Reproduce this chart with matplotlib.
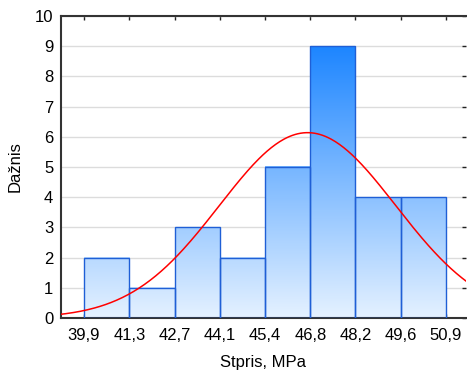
import numpy as np
import matplotlib
matplotlib.use('Agg')
import matplotlib.pyplot as plt
from matplotlib.colors import LinearSegmentedColormap

plt.rcParams['font.family'] = ['Liberation Sans', 'DejaVu Sans']

# histogram data
edge_labels = ['39,9', '41,3', '42,7', '44,1', '45,4', '46,8', '48,2', '49,6', '50,9']
counts = [2, 1, 3, 2, 5, 9, 4, 4]

# fitted normal curve (in bin units, starting at 39,9)
fit_mean = 4.94
fit_std = 1.95

n_total = sum(counts)

fig = plt.figure(figsize=(4.67, 3.74), dpi=100)
ax = fig.add_axes([0.1306, 0.1497, 0.867, 0.8075])

ymax_grad = 9.0
cmap = LinearSegmentedColormap.from_list('bl', ['#e4f1ff', '#1e86ff'])

for i, c in enumerate(counts):
    grad = np.linspace(0, c / ymax_grad, 100).reshape(-1, 1)
    ax.imshow(grad, extent=(i, i + 1, 0, c), origin='lower', cmap=cmap,
              vmin=0, vmax=1, aspect='auto', zorder=2, interpolation='bilinear')
    ax.add_patch(plt.Rectangle((i, 0), 1, c, fill=False, edgecolor='#1f5fd6',
                               linewidth=1.0, zorder=3))

x = np.linspace(-0.6, 8.6, 300)
y = n_total / (fit_std * np.sqrt(2 * np.pi)) * np.exp(-0.5 * ((x - fit_mean) / fit_std) ** 2)
ax.plot(x, y, color='#ff0000', linewidth=1.1, zorder=4)

ax.set_xlim(-0.51, 8.44)
ax.set_ylim(0, 10)
ax.set_xticks(range(len(edge_labels)))
ax.set_xticklabels(edge_labels)
ax.set_yticks(range(11))
ax.yaxis.grid(True, color='#dcdcdc', linewidth=1.0, zorder=0)
ax.set_axisbelow(True)

ax.tick_params(axis='x', direction='in', length=3, width=1, top=True, bottom=True,
               labelsize=12, pad=7, color='#222222')
ax.tick_params(axis='y', direction='in', length=3, width=1, left=False, right=True,
               labelsize=12, pad=5.5, color='#222222')

for s in ['left', 'bottom', 'top']:
    ax.spines[s].set_color('#333333')
    ax.spines[s].set_linewidth(1.5)
ax.spines['right'].set_visible(False)

ax.set_xlabel('Stpris, MPa', fontsize=12, labelpad=9)
ax.set_ylabel('Dažnis', fontsize=12, labelpad=9)

fig.savefig('out.png', dpi=100)
